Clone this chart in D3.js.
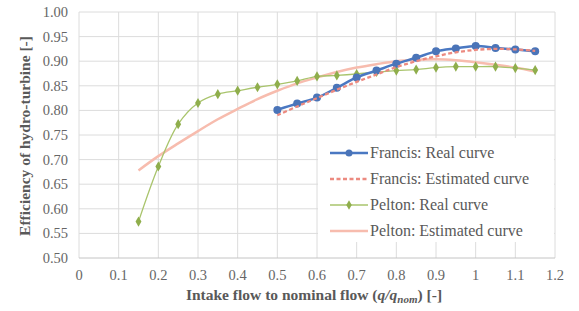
<!DOCTYPE html>
<html>
<head>
<meta charset="utf-8">
<script src="https://cdn.jsdelivr.net/npm/d3@7"></script>
</head>
<body style="margin:0; background:#fff">
<svg id="chart" width="579" height="311"></svg>
<script>
const width = 579;
const height = 311;
const margin = { top: 12, right: 24, bottom: 53, left: 79 };
const serif = "'Liberation Serif'";

// flow ratio q/qnom
const francisX = [0.5, 0.55, 0.6, 0.65, 0.7, 0.75, 0.8, 0.85, 0.9, 0.95, 1.0, 1.05, 1.1, 1.15];
const francisReal = [0.801, 0.814, 0.826, 0.846, 0.867, 0.881, 0.895, 0.907, 0.92, 0.926, 0.931, 0.927, 0.924, 0.92];
const francisEst = [0.79, 0.808, 0.825, 0.842, 0.858, 0.873, 0.888, 0.9, 0.91, 0.918, 0.923, 0.925, 0.924, 0.921];

const peltonX = [0.15, 0.2, 0.25, 0.3, 0.35, 0.4, 0.45, 0.5, 0.55, 0.6, 0.65, 0.7, 0.75, 0.8, 0.85, 0.9, 0.95, 1.0, 1.05, 1.1, 1.15];
const peltonReal = [0.574, 0.686, 0.772, 0.815, 0.833, 0.84, 0.847, 0.853, 0.86, 0.869, 0.871, 0.874, 0.878, 0.881, 0.883, 0.887, 0.889, 0.889, 0.889, 0.886, 0.882];
const peltonEst = [0.678, 0.707, 0.733, 0.758, 0.782, 0.803, 0.823, 0.84, 0.855, 0.867, 0.878, 0.887, 0.894, 0.9, 0.903, 0.904, 0.902, 0.898, 0.893, 0.887, 0.879];

const xTicks = [0, 0.1, 0.2, 0.3, 0.4, 0.5, 0.6, 0.7, 0.8, 0.9, 1, 1.1, 1.2];
const yTicks = [0.5, 0.55, 0.6, 0.65, 0.7, 0.75, 0.8, 0.85, 0.9, 0.95, 1.0];

const legendNames = ["Francis: Real curve", "Francis: Estimated curve", "Pelton: Real curve", "Pelton: Estimated curve"];

const svg = d3.select("#chart");

const x = d3.scaleLinear().domain([0, 1.2]).range([margin.left, width - margin.right]);
const y = d3.scaleLinear().domain([0.5, 1.0]).range([height - margin.bottom, margin.top]);

// grid
const grid = svg.append("g");
grid.selectAll("line.v").data(xTicks).join("line")
  .attr("x1", d => x(d)).attr("x2", d => x(d))
  .attr("y1", y(1.0)).attr("y2", y(0.5))
  .attr("stroke", "#dcdcdc").attr("stroke-width", 1);
grid.selectAll("line.h").data(yTicks).join("line")
  .attr("x1", x(0)).attr("x2", x(1.2))
  .attr("y1", d => y(d)).attr("y2", d => y(d))
  .attr("stroke", d => d === 0.5 ? "#c4c4c4" : "#dcdcdc").attr("stroke-width", 1);

// tick labels
const fmtY = d3.format(".2f");
svg.selectAll("text.xtick").data(xTicks).join("text").attr("class", "xtick")
  .attr("x", d => x(d)).attr("y", y(0.5) + 22)
  .attr("text-anchor", "middle")
  .style("font-family", serif).style("font-weight", "normal")
  .attr("font-size", 14.5).attr("fill", "#666")
  .text(d => String(d));
svg.selectAll("text.ytick").data(yTicks).join("text").attr("class", "ytick")
  .attr("x", margin.left - 11).attr("y", d => y(d) + 5)
  .attr("text-anchor", "end")
  .style("font-family", serif).style("font-weight", "normal")
  .attr("font-size", 14.5).attr("fill", "#666")
  .text(d => fmtY(d));

// series
function pts(xs, ys) { return xs.map((v, i) => [v, ys[i]]); }
const line = d3.line().x(d => x(d[0])).y(d => y(d[1])).curve(d3.curveCatmullRom.alpha(0.5));

svg.append("path").datum(pts(peltonX, peltonEst))
  .attr("d", line).attr("fill", "none").attr("stroke", "#f7bcae").attr("stroke-width", 2.5);

svg.append("path").datum(pts(peltonX, peltonReal))
  .attr("d", line).attr("fill", "none").attr("stroke", "#a9c46c").attr("stroke-width", 1.3);
svg.append("g").selectAll("path").data(pts(peltonX, peltonReal)).join("path")
  .attr("transform", d => `translate(${x(d[0])},${y(d[1])})`)
  .attr("d", d3.symbol(d3.symbolDiamond, 30))
  .attr("fill", "#8fae4c");

svg.append("path").datum(pts(francisX, francisReal))
  .attr("d", line).attr("fill", "none").attr("stroke", "#4a78c2").attr("stroke-width", 2.5);
svg.append("g").selectAll("circle").data(pts(francisX, francisReal)).join("circle")
  .attr("cx", d => x(d[0])).attr("cy", d => y(d[1])).attr("r", 4)
  .attr("fill", "#4a74b8");

svg.append("path").datum(pts(francisX, francisEst))
  .attr("d", line).attr("fill", "none").attr("stroke", "#ec8a80")
  .attr("stroke-width", 2.3).attr("stroke-dasharray", "4,2.5");

// legend
const leg = svg.append("g");
leg.append("rect").attr("x", 318).attr("y", 138).attr("width", 236).attr("height", 104).attr("fill", "#fff");
const rowY = [153, 179, 205, 231];
const lx1 = 330, lx2 = 368;
// Francis real
leg.append("line").attr("x1", lx1).attr("x2", lx2).attr("y1", rowY[0]).attr("y2", rowY[0])
  .attr("stroke", "#4a78c2").attr("stroke-width", 2.5);
leg.append("circle").attr("cx", (lx1 + lx2) / 2).attr("cy", rowY[0]).attr("r", 3.5).attr("fill", "#4a74b8");
// Francis est
leg.append("line").attr("x1", lx1).attr("x2", lx2).attr("y1", rowY[1]).attr("y2", rowY[1])
  .attr("stroke", "#ec8a80").attr("stroke-width", 2.3).attr("stroke-dasharray", "4,2.5");
// Pelton real
leg.append("line").attr("x1", lx1).attr("x2", lx2).attr("y1", rowY[2]).attr("y2", rowY[2])
  .attr("stroke", "#a9c46c").attr("stroke-width", 1.3);
leg.append("path").attr("transform", `translate(${(lx1 + lx2) / 2},${rowY[2]})`)
  .attr("d", d3.symbol(d3.symbolDiamond, 26)).attr("fill", "#8fae4c");
// Pelton est
leg.append("line").attr("x1", lx1).attr("x2", lx2).attr("y1", rowY[3]).attr("y2", rowY[3])
  .attr("stroke", "#f7bcae").attr("stroke-width", 2.5);
svg.selectAll("text.legend").data(legendNames).join("text").attr("class", "legend")
  .attr("x", 370).attr("y", (d, i) => rowY[i] + 5)
  .style("font-family", serif).style("font-weight", "normal")
  .attr("font-size", 16).attr("fill", "#595959").text(d => d);

// axis titles
const xt = svg.append("text")
  .attr("x", 314).attr("y", 300).attr("text-anchor", "middle")
  .style("font-family", serif)
  .attr("font-size", 15.5).attr("font-weight", "bold").attr("fill", "#595959");
xt.append("tspan").text("Intake flow  to nominal  flow (");
xt.append("tspan").attr("font-style", "italic").text("q/q");
xt.append("tspan").attr("font-style", "italic").attr("font-size", 11).attr("dy", 3).text("nom");
xt.append("tspan").attr("dy", -3).text(")  [-]");

svg.append("text")
  .attr("transform", "translate(30, 136) rotate(-90)")
  .attr("text-anchor", "middle")
  .style("font-family", serif)
  .attr("font-size", 15.5).attr("font-weight", "bold").attr("fill", "#595959")
  .text("Efficiency of hydro-turbine  [-]");
</script>
</body>
</html>
